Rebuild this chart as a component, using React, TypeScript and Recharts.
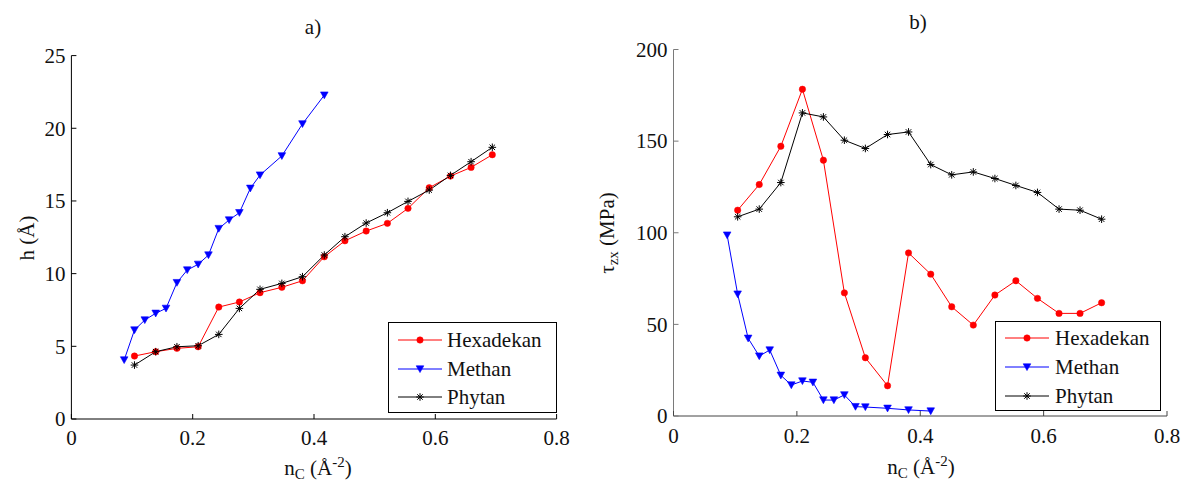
import React from 'react';
import { LineChart, Line, XAxis, YAxis } from 'recharts';

// ---------- data ----------
const nC = [0.104, 0.139, 0.174, 0.209, 0.243, 0.277, 0.311, 0.347, 0.381, 0.417, 0.451, 0.486, 0.521, 0.555, 0.590, 0.625, 0.659, 0.694];
const nCMethan = [0.087, 0.104, 0.121, 0.139, 0.156, 0.174, 0.191, 0.209, 0.226, 0.243, 0.260, 0.277, 0.295, 0.311, 0.347, 0.381, 0.417];

const hHexadekan = [4.33, 4.63, 4.86, 4.97, 7.70, 8.05, 8.69, 9.06, 9.51, 11.16, 12.26, 12.93, 13.46, 14.49, 15.91, 16.71, 17.31, 18.18];
const hMethan = [4.06, 6.12, 6.81, 7.27, 7.61, 9.38, 10.25, 10.64, 11.28, 13.1, 13.69, 14.19, 15.87, 16.78, 18.1, 20.3, 22.28];
const hPhytan = [3.71, 4.63, 4.97, 5.04, 5.82, 7.61, 8.92, 9.33, 9.79, 11.28, 12.54, 13.48, 14.19, 14.97, 15.75, 16.76, 17.70, 18.69];

const tauHexadekan = [112.3, 126.3, 147.2, 178.3, 139.6, 67.2, 31.8, 16.5, 89.0, 77.4, 59.6, 49.6, 66.0, 73.8, 64.2, 56.0, 56.0, 61.8];
const tauMethan = [98.7, 66.5, 42.4, 32.7, 36.0, 22.2, 16.9, 19.1, 18.4, 8.7, 8.7, 11.5, 5.1, 4.9, 4.2, 3.3, 2.7];
const tauPhytan = [108.7, 112.9, 127.4, 165.4, 163.2, 150.5, 146.0, 153.6, 155.0, 137.2, 131.6, 133.2, 129.6, 125.8, 122.0, 112.9, 112.3, 107.4];

const xTicks = [0, 0.2, 0.4, 0.6, 0.8];
const hTicks = [0, 5, 10, 15, 20, 25];
const tauTicks = [0, 50, 100, 150, 200];

const seriesNames = ['Hexadekan', 'Methan', 'Phytan'];
const seriesColors = ['#ff0000', '#0000ff', '#000000'];

const zip = (xs: number[], ys: number[]) => xs.map((x, i) => ({ x, y: ys[i] }));

const FONT = '"Liberation Serif", "DejaVu Serif", serif';
const FS = 21;

// ---------- markers ----------
const Circle = ({ cx, cy, color }: any) => <circle cx={cx} cy={cy} r={3.2} fill={color} stroke={color} strokeWidth={0.5} />;
const TriDown = ({ cx, cy, color }: any) => (
  <polygon points={`${cx - 3.8},${cy - 3.2} ${cx + 3.8},${cy - 3.2} ${cx},${cy + 3.6}`} fill={color} stroke={color} strokeWidth={0.6} />
);
const Star = ({ cx, cy, color }: any) => {
  const r = 3.8;
  const d = r * 0.72;
  return (
    <g stroke={color} strokeWidth={1}>
      <line x1={cx - r} y1={cy} x2={cx + r} y2={cy} />
      <line x1={cx} y1={cy - r} x2={cx} y2={cy + r} />
      <line x1={cx - d} y1={cy - d} x2={cx + d} y2={cy + d} />
      <line x1={cx - d} y1={cy + d} x2={cx + d} y2={cy - d} />
    </g>
  );
};
const markers = [Circle, TriDown, Star];

const dotFor = (idx: number) => (p: any) => {
  const M = markers[idx];
  if (p.cx == null || p.cy == null) return <g key={`d${idx}-${p.index}`} />;
  return <g key={`d${idx}-${p.index}`}><M cx={p.cx} cy={p.cy} color={seriesColors[idx]} /></g>;
};

// ---------- ticks ----------
const XTick = (color: string, dy: number) => (props: any) => {
  const { x, y, payload } = props;
  return (
    <g>
      <line x1={x} x2={x} y1={y} y2={y - 5} stroke={color} strokeWidth={1} />
      <text x={x} y={y + dy} textAnchor="middle" fontSize={FS} fontFamily={FONT} fill="#111">{String(payload.value)}</text>
    </g>
  );
};
const YTick = (color: string) => (props: any) => {
  const { x, y, payload } = props;
  return (
    <g>
      <line x1={x} x2={x + 5} y1={y} y2={y} stroke={color} strokeWidth={1} />
      <text x={x - 6} y={y} dy="0.35em" textAnchor="end" fontSize={FS} fontFamily={FONT} fill="#111">{String(payload.value)}</text>
    </g>
  );
};

// ---------- legend (overlay) ----------
const LegendBox = ({ left, top, width, height, rows, lineX, textX }: any) => (
  <div style={{ position: 'absolute', left, top, width, height, border: '1.5px solid #000', background: '#fff', boxSizing: 'border-box' }}>
    {seriesNames.map((name, i) => {
      const M = markers[i];
      return (
        <div key={name} style={{ position: 'absolute', left: 0, top: rows[i] - 12, height: 24, width: '100%' }}>
          <svg width={46} height={24} style={{ position: 'absolute', left: lineX, top: 0 }}>
            <line x1={0} x2={44} y1={12} y2={12} stroke={seriesColors[i]} strokeWidth={1} />
            <M cx={22} cy={12} color={seriesColors[i]} />
          </svg>
          <div style={{ position: 'absolute', left: textX, top: 0, fontFamily: FONT, fontSize: FS, lineHeight: '24px', color: '#111', whiteSpace: 'nowrap' }}>{name}</div>
        </div>
      );
    })}
  </div>
);

const Txt = ({ left, top, children, rotate }: any) => (
  <div style={{ position: 'absolute', left, top, transform: `translate(-50%,-50%)${rotate ? ' rotate(-90deg)' : ''}`, whiteSpace: 'nowrap', fontFamily: FONT, fontSize: FS, lineHeight: 1, color: '#111' }}>
    {children}
  </div>
);
const Sub = ({ children }: any) => <span style={{ fontSize: 15, position: 'relative', top: 4 }}>{children}</span>;
const Sup = ({ children }: any) => <span style={{ fontSize: 15, position: 'relative', top: -8 }}>{children}</span>;

export default function App() {
  const leftSeries = [zip(nC, hHexadekan), zip(nCMethan, hMethan), zip(nC, hPhytan)];
  const rightSeries = [zip(nC, tauHexadekan), zip(nCMethan, tauMethan), zip(nC, tauPhytan)];
  const leftAxis = '#000';
  const rightY = '#7a7a7a';
  const rightX = '#444';
  return (
    <div style={{ position: 'absolute', left: 0, top: 0, width: 1185, height: 484, background: '#fff', overflow: 'hidden' }}>
      <div style={{ position: 'absolute', left: 0, top: 0 }}>
        <LineChart width={600} height={484} margin={{ top: 55.6, right: 43.4, bottom: 0, left: 0 }}>
          <XAxis type="number" dataKey="x" domain={[0, 0.8]} ticks={xTicks} interval={0} height={65} tickSize={0} tickMargin={0} tickLine={false} axisLine={{ stroke: leftAxis }} tick={XTick(leftAxis, 26)} allowDataOverflow />
          <YAxis type="number" dataKey="y" domain={[0, 25]} ticks={hTicks} interval={0} width={71.4} tickSize={0} tickMargin={0} tickLine={false} axisLine={{ stroke: leftAxis }} tick={YTick(leftAxis)} allowDataOverflow />
          {leftSeries.map((d, i) => (
            <Line key={seriesNames[i]} data={d} dataKey="y" name={seriesNames[i]} stroke={seriesColors[i]} strokeWidth={1} dot={dotFor(i)} activeDot={false} isAnimationActive={false} />
          ))}
        </LineChart>
      </div>
      <div style={{ position: 'absolute', left: 600, top: 0 }}>
        <LineChart width={585} height={484} margin={{ top: 49.5, right: 18, bottom: 0, left: 0 }}>
          <XAxis type="number" dataKey="x" domain={[0, 0.8]} ticks={xTicks} interval={0} height={68} tickSize={0} tickMargin={0} tickLine={false} axisLine={{ stroke: rightX }} tick={XTick(rightX, 27)} allowDataOverflow />
          <YAxis type="number" dataKey="y" domain={[0, 200]} ticks={tauTicks} interval={0} width={73.5} tickSize={0} tickMargin={0} tickLine={false} axisLine={{ stroke: rightY }} tick={YTick(rightY)} allowDataOverflow />
          {rightSeries.map((d, i) => (
            <Line key={seriesNames[i]} data={d} dataKey="y" name={seriesNames[i]} stroke={seriesColors[i]} strokeWidth={1} dot={dotFor(i)} activeDot={false} isAnimationActive={false} />
          ))}
        </LineChart>
      </div>

      <Txt left={313} top={27}>a)</Txt>
      <Txt left={918} top={22}>b)</Txt>
      <Txt left={27} top={238} rotate>h (Å)</Txt>
      <Txt left={607} top={233} rotate>τ<Sub>zx</Sub> (MPa)</Txt>
      <Txt left={318} top={468}>n<Sub>C</Sub> (Å<Sup>-2</Sup>)</Txt>
      <Txt left={921} top={467}>n<Sub>C</Sub> (Å<Sup>-2</Sup>)</Txt>

      <LegendBox left={388} top={322} width={169} height={91} rows={[17, 45.7, 73.7]} lineX={9} textX={58} />
      <LegendBox left={995} top={320.5} width={166} height={90} rows={[16.8, 45.5, 74.5]} lineX={9} textX={59} />
    </div>
  );
}
